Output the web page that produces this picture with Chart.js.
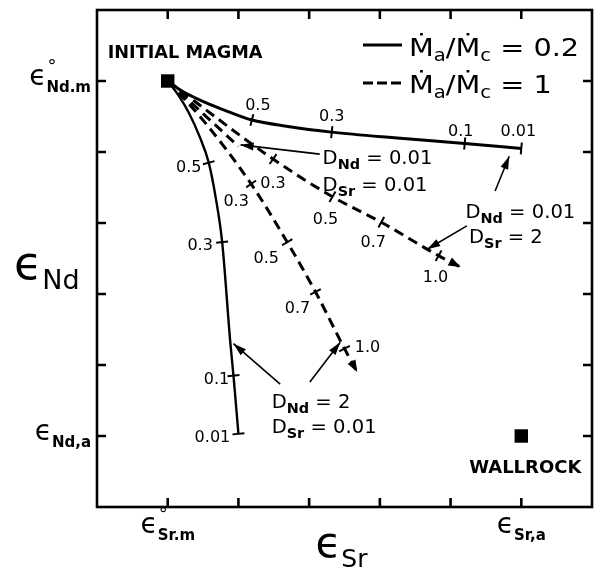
<!DOCTYPE html>
<html>
<head>
<meta charset="utf-8">
<script src="https://cdn.jsdelivr.net/npm/chart.js@4/dist/chart.umd.min.js"></script>
<style>html,body{margin:0;background:#fff}canvas{display:block}</style>
</head>
<body>
<canvas id="graficoAfc" width="603" height="569"></canvas>
<script>
// eps_Sr / eps_Nd in axis units: initial magma = (0, 5), wallrock = (5, 0)
var axisTicks = [0, 1, 2, 3, 4, 5];
var magma = [[0, 5]];
var wallrock = [[5, 0]];

// Ma/Mc = 0.2 (solid)
var solidSrTwo  = [[0,5],[0.2,4.86],[0.53,4.70],[0.8,4.59],[1.19,4.45],[1.7,4.36],[2.32,4.28],[3.2,4.2],[4.2,4.12],[5.0,4.05]];
var solidSrTwoF = ['', '', '', '', '0.5', '', '0.3', '', '0.1', '0.01'];
var solidNdTwo  = [[0,5],[0.15,4.8],[0.3,4.55],[0.45,4.22],[0.58,3.85],[0.68,3.35],[0.77,2.73],[0.885,1.32],[0.93,0.85],[1.0,0.03]];
var solidNdTwoF = ['', '', '', '', '0.5', '', '0.3', '', '0.1', '0.01'];

// Ma/Mc = 1 (dashed)
var dashLow    = [[0,5],[1.0,4.08]];
var dashSrTwo  = [[0,5],[1.49,3.9],[2.33,3.37],[3.02,3.01],[3.83,2.54],[4.14,2.38]];
var dashSrTwoF = ['', '0.3', '0.5', '0.7', '1.0', ''];
var dashNdTwo  = [[0,5],[0.49,4.46],[1.18,3.55],[1.69,2.73],[2.09,2.03],[2.50,1.23],[2.68,0.90]];
var dashNdTwoF = ['', '', '0.3', '0.5', '0.7', '1.0', ''];

var FONTE = "'DejaVu Sans', sans-serif";

// where the F labels sit next to their tick (pixels)
var desloc = {
	solidSrTwo: [null,null,null,null,[6,-16],null,[0,-17],null,[-4,-13],[-3,-18]],
	solidNdTwo: [null,null,null,null,[-20,3],null,[-22,2],null,[-17,2],[-26,2]],
	dashSrTwo:  [null,[0,23],[-7,21],[-8,19],[-3,20],null],
	dashNdTwo:  [null,null,[-15,16],[-21,15],[-18,15],[23,-3],null]
};

// annotation arrows, tail -> head, in axis units
var setas = [
	[[2.15,3.97],[1.03,4.10]],
	[[4.63,3.45],[4.83,3.94]],
	[[4.23,2.96],[3.67,2.63]],
	[[1.59,0.73],[0.93,1.30]],
	[[2.01,0.76],[2.44,1.32]]
];

// D labels: [x, y, element, value]
var rotulosD = [
	[2.19,3.93,'Nd',' = 0.01'], [2.19,3.55,'Sr',' = 0.01'],
	[4.21,3.17,'Nd',' = 0.01'], [4.26,2.82,'Sr',' = 2'],
	[1.47,0.49,'Nd',' = 2'],    [1.47,0.14,'Sr',' = 0.01']
];

function pts(arr) { return arr.map(function(p) { return {x: p[0], y: p[1]}; }); }

// draws a run of text pieces (subscripts, rings), sx = horizontal stretch
function texto(ctx, x, y, segs, align, sx) {
	sx = sx || 1;
	var w = 0;
	segs.forEach(function(s) {
		ctx.font = (s.b ? 'bold ' : '') + s.s + 'px ' + FONTE;
		if (!s.n) w += ctx.measureText(s.t).width;
	});
	var x0 = align === 'center' ? x - w * sx / 2 : (align === 'right' ? x - w * sx : x);
	ctx.save();
	ctx.translate(x0, y);
	ctx.scale(sx, 1);
	ctx.textAlign = 'left';
	ctx.textBaseline = 'alphabetic';
	var cx = 0;
	segs.forEach(function(s) {
		ctx.font = (s.b ? 'bold ' : '') + s.s + 'px ' + FONTE;
		ctx.fillText(s.t, cx + (s.dx || 0), s.dy || 0);
		if (!s.n) cx += ctx.measureText(s.t).width;
	});
	ctx.restore();
}

function ponta(ctx, x1, y1, x2, y2, len, wid) {
	var a = Math.atan2(y2 - y1, x2 - x1);
	ctx.beginPath();
	ctx.moveTo(x2, y2);
	ctx.lineTo(x2 - len * Math.cos(a) + wid * Math.sin(a), y2 - len * Math.sin(a) - wid * Math.cos(a));
	ctx.lineTo(x2 - len * Math.cos(a) - wid * Math.sin(a), y2 - len * Math.sin(a) + wid * Math.cos(a));
	ctx.closePath();
	ctx.fill();
}

var desenhos = {
	id: 'desenhos',
	afterDatasetsDraw: function(chart) {
		var ctx = chart.ctx, xs = chart.scales.x, ys = chart.scales.y, area = chart.chartArea;
		function P(p) { return [xs.getPixelForValue(p[0]), ys.getPixelForValue(p[1])]; }
		ctx.save();
		ctx.strokeStyle = '#000';
		ctx.fillStyle = '#000';
		ctx.lineCap = 'butt';

		// frame and inward ticks
		ctx.lineWidth = 2.6;
		ctx.strokeRect(area.left, area.top, area.right - area.left, area.bottom - area.top);
		axisTicks.forEach(function(v) {
			var x = xs.getPixelForValue(v), y = ys.getPixelForValue(v);
			ctx.beginPath();
			ctx.moveTo(x, area.bottom); ctx.lineTo(x, area.bottom - 9);
			ctx.moveTo(x, area.top); ctx.lineTo(x, area.top + 9);
			ctx.moveTo(area.left, y); ctx.lineTo(area.left + 9, y);
			ctx.moveTo(area.right, y); ctx.lineTo(area.right - 9, y);
			ctx.stroke();
		});

		// F ticks along the curves
		[[solidSrTwo, solidSrTwoF, 'solidSrTwo'], [solidNdTwo, solidNdTwoF, 'solidNdTwo'],
		 [dashSrTwo, dashSrTwoF, 'dashSrTwo'], [dashNdTwo, dashNdTwoF, 'dashNdTwo']].forEach(function(c) {
			var linha = c[0], rot = c[1], off = desloc[c[2]];
			rot.forEach(function(r, i) {
				if (!r) return;
				var a = P(linha[Math.max(i - 1, 0)]), b = P(linha[Math.min(i + 1, linha.length - 1)]);
				var p = P(linha[i]);
				var ang = Math.atan2(b[1] - a[1], b[0] - a[0]) + Math.PI / 2;
				ctx.lineWidth = 2;
				ctx.beginPath();
				ctx.moveTo(p[0] - 6 * Math.cos(ang), p[1] - 6 * Math.sin(ang));
				ctx.lineTo(p[0] + 6 * Math.cos(ang), p[1] + 6 * Math.sin(ang));
				ctx.stroke();
				texto(ctx, p[0] + off[i][0], p[1] + off[i][1] + 6, [{t: r, s: 16}], 'center');
			});
		});

		// arrowheads at the end of the dashed paths
		[dashSrTwo, dashNdTwo].forEach(function(linha) {
			var a = P(linha[linha.length - 2]), b = P(linha[linha.length - 1]);
			ponta(ctx, a[0], a[1], b[0], b[1], 12, 4.5);
		});

		// label arrows
		ctx.lineWidth = 1.6;
		setas.forEach(function(s) {
			var a = P(s[0]), b = P(s[1]);
			ctx.beginPath(); ctx.moveTo(a[0], a[1]); ctx.lineTo(b[0], b[1]); ctx.stroke();
			ponta(ctx, a[0], a[1], b[0], b[1], 13, 4);
		});

		// D labels
		rotulosD.forEach(function(r) {
			var p = P([r[0], r[1]]);
			texto(ctx, p[0], p[1] + 7, [{t: 'D', s: 19}, {t: r[2], s: 14, b: true, dy: 5}, {t: r[3], s: 19}], 'left', 1.03);
		});

		// point labels
		var pm = P(magma[0]), pw = P(wallrock[0]);
		texto(ctx, pm[0] - 60, pm[1] - 23, [{t: 'INITIAL MAGMA', s: 17, b: true}], 'left', 1.04);
		texto(ctx, pw[0] + 4, pw[1] + 37, [{t: 'WALLROCK', s: 18, b: true}], 'center');

		// legend
		ctx.lineWidth = 3;
		ctx.beginPath(); ctx.moveTo(363, 45); ctx.lineTo(402, 45); ctx.stroke();
		ctx.setLineDash([10, 4]);
		ctx.beginPath(); ctx.moveTo(363, 83); ctx.lineTo(401, 83); ctx.stroke();
		ctx.setLineDash([]);
		var leg = function(v) {
			return [{t: 'Ṁ', s: 25}, {t: 'a', s: 17, dy: 5}, {t: '/', s: 25}, {t: 'Ṁ', s: 25}, {t: 'c', s: 17, dy: 5}, {t: ' = ' + v, s: 25}];
		};
		texto(ctx, 409, 56, leg('0.2'), 'left', 1.15);
		texto(ctx, 409, 93, leg('1'), 'left', 1.15);

		// axis end labels
		var y5 = ys.getPixelForValue(5), y0 = ys.getPixelForValue(0);
		var x0 = xs.getPixelForValue(0), x5 = xs.getPixelForValue(5);
		texto(ctx, area.left - 6, y5 + 4, [{t: 'ϵ', s: 28}, {t: '°', s: 18, dy: -13, dx: 1, n: true}, {t: 'Nd.m', s: 15, b: true, dy: 7}], 'right');
		texto(ctx, area.left - 6, y0 + 4, [{t: 'ϵ', s: 28}, {t: 'Nd,a', s: 15, b: true, dy: 7}], 'right');
		texto(ctx, x0, area.bottom + 26, [{t: 'ϵ', s: 28}, {t: '°', s: 18, dy: -13, dx: 1, n: true}, {t: 'Sr.m', s: 15, b: true, dy: 7}], 'center');
		texto(ctx, x5, area.bottom + 26, [{t: 'ϵ', s: 28}, {t: 'Sr,a', s: 15, b: true, dy: 7}], 'center');

		// axis titles
		var ym = (area.top + area.bottom) / 2;
		texto(ctx, 14, ym + 20, [{t: 'ϵ', s: 46}, {t: 'Nd', s: 27, dy: 10}], 'left');
		texto(ctx, (x0 + x5) / 2 - 3, area.bottom + 50, [{t: 'ϵ', s: 42}, {t: 'Sr', s: 25, dy: 10}], 'center');
		ctx.restore();
	}
};

function serie(arr, dash, largura) {
	return {
		data: pts(arr), showLine: true, borderColor: '#000', borderWidth: largura,
		borderDash: dash ? [10, 6] : [], pointRadius: 0, cubicInterpolationMode: 'monotone', fill: false
	};
}

new Chart(document.getElementById('graficoAfc').getContext('2d'), {
	type: 'scatter',
	data: {
		datasets: [
			serie(solidSrTwo, false, 3),
			serie(solidNdTwo, false, 2.4),
			serie(dashLow, true, 3),
			serie(dashSrTwo, true, 3),
			serie(dashNdTwo, true, 3),
			{ data: pts(magma.concat(wallrock)), pointStyle: 'rect', pointRadius: 9.5, backgroundColor: '#000', borderColor: '#000', borderWidth: 0 }
		]
	},
	options: {
		responsive: false,
		animation: false,
		layout: { padding: { left: 97, top: 10, right: 11, bottom: 62 } },
		plugins: { legend: { display: false }, tooltip: { enabled: false } },
		scales: {
			x: { type: 'linear', min: -1, max: 6, display: false },
			y: { type: 'linear', min: -1, max: 6, display: false }
		}
	},
	plugins: [desenhos]
});
</script>
</body>
</html>
